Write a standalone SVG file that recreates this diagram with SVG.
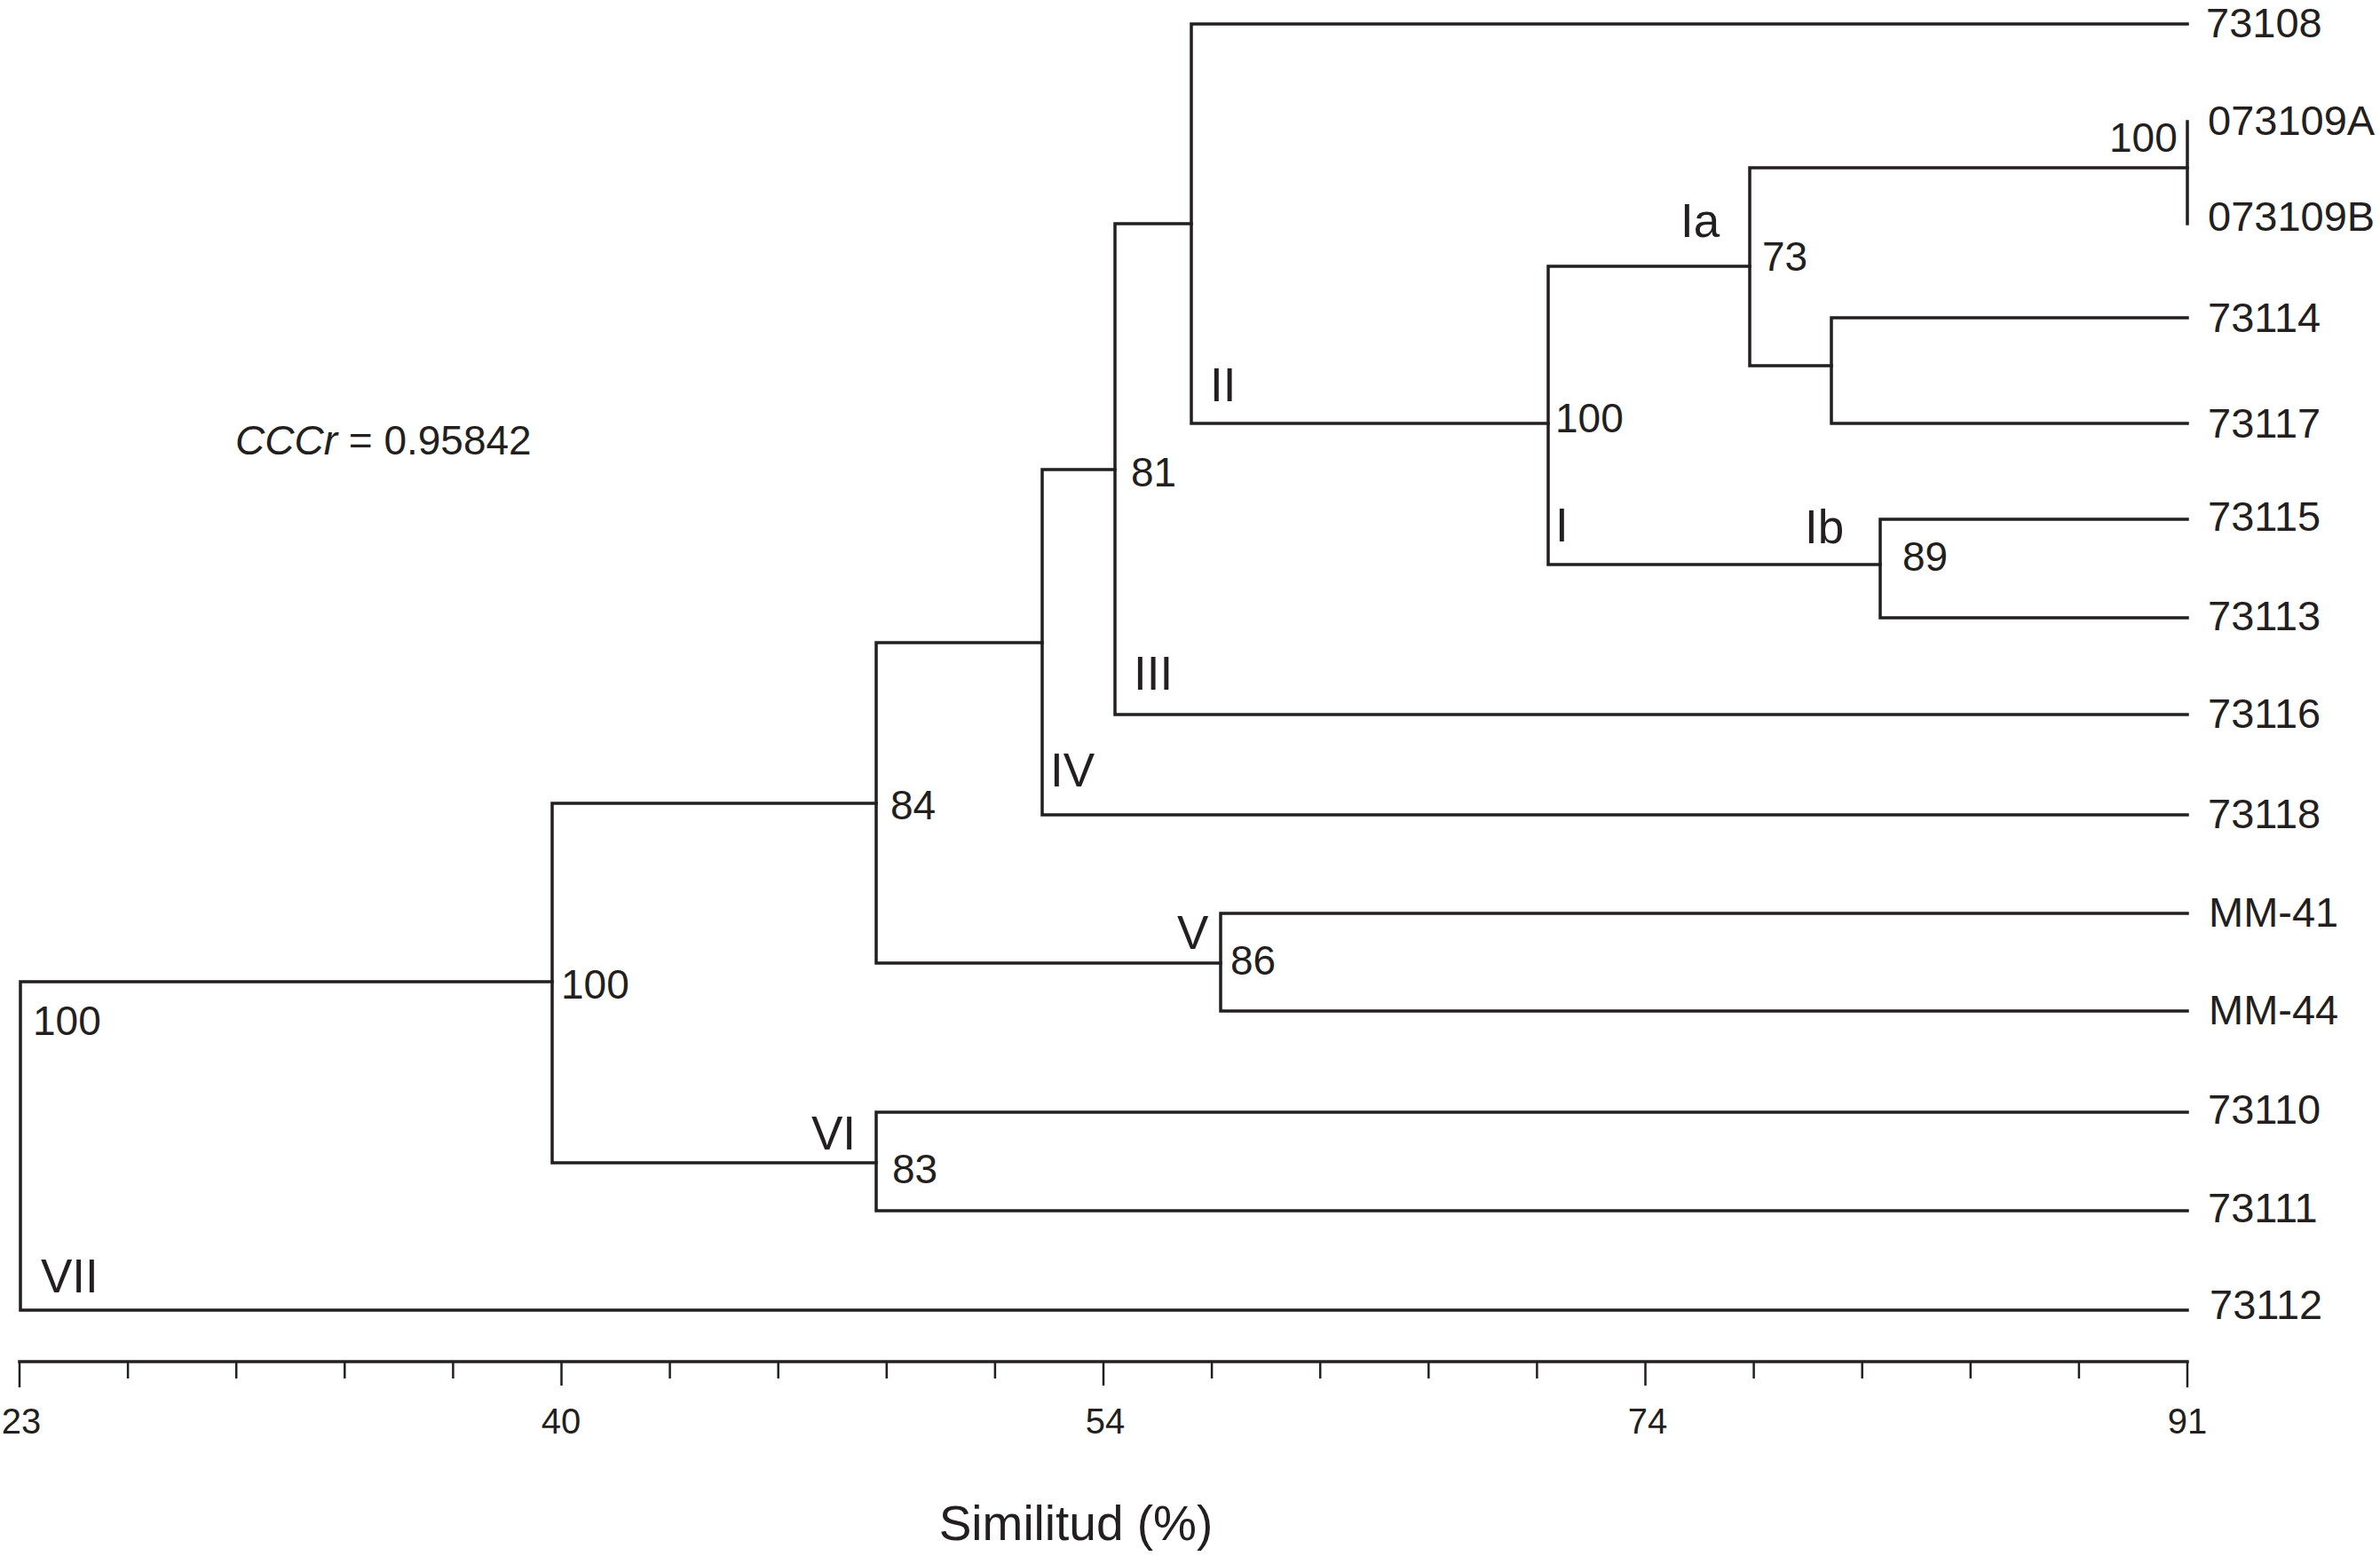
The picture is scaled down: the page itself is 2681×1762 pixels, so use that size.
<svg xmlns="http://www.w3.org/2000/svg" width="2681" height="1762" viewBox="0 0 2681 1762">
<style>
.ln{fill:none;stroke:#231f20;stroke-width:3.5;stroke-linecap:square;stroke-linejoin:miter}
.tk{fill:none;stroke:#231f20;stroke-width:2.5}
text{font-family:"Liberation Sans",Arial,sans-serif;fill:#231f20}
.lf{font-size:47px}
.bs{font-size:46px}
.rm{font-size:53px}
.ax{font-size:40px;text-anchor:middle}
</style>
<rect width="2681" height="1762" fill="#ffffff"/>
<g id="connectors">
<path class="ln" d="M622,1106 H23 V1476 H2464"/>
<path class="ln" d="M987,905 H622 V1310 H987"/>
<path class="ln" d="M1174,724 H987 V1085 H1375"/>
<path class="ln" d="M2464,1253 H987 V1364 H2464"/>
<path class="ln" d="M2464,1029 H1375 V1139 H2464"/>
<path class="ln" d="M1256,529 H1174 V918 H2464"/>
<path class="ln" d="M1342,252 H1256 V805 H2464"/>
<path class="ln" d="M2464,27 H1342 V477 H1744"/>
<path class="ln" d="M1971,300 H1744 V636 H2118"/>
<path class="ln" d="M2464,189 H1971 V412 H2063"/>
<path class="ln" d="M2464,358 H2063 V477 H2464"/>
<path class="ln" d="M2464,585 H2118 V696 H2464"/>
<path class="ln" d="M2464,137 V252"/>
</g>
<g id="leaves">
<g id="leaf-73108"><text class="lf" x="2485" y="42">73108</text></g>
<g id="leaf-073109A"><text class="lf" x="2487" y="152">073109A</text></g>
<g id="leaf-073109B"><text class="lf" x="2487" y="260">073109B</text></g>
<g id="leaf-73114"><text class="lf" x="2487" y="374">73114</text></g>
<g id="leaf-73117"><text class="lf" x="2487" y="493">73117</text></g>
<g id="leaf-73115"><text class="lf" x="2487" y="598">73115</text></g>
<g id="leaf-73113"><text class="lf" x="2487" y="710">73113</text></g>
<g id="leaf-73116"><text class="lf" x="2487" y="820">73116</text></g>
<g id="leaf-73118"><text class="lf" x="2487" y="933">73118</text></g>
<g id="leaf-MM-41"><text class="lf" x="2488" y="1044">MM-41</text></g>
<g id="leaf-MM-44"><text class="lf" x="2488" y="1154">MM-44</text></g>
<g id="leaf-73110"><text class="lf" x="2487" y="1266">73110</text></g>
<g id="leaf-73111"><text class="lf" x="2487" y="1377">73111</text></g>
<g id="leaf-73112"><text class="lf" x="2489" y="1486">73112</text></g>
</g>
<g id="nodes">
<g id="node-root"><text class="bs" x="37" y="1166">100</text><text class="rm" x="46" y="1456">VII</text></g>
<g id="node-100"><text class="bs" x="632" y="1125">100</text></g>
<g id="node-VI"><text class="rm" x="914" y="1295">VI</text><text class="bs" x="1005" y="1333">83</text></g>
<g id="node-84"><text class="bs" x="1003" y="923">84</text></g>
<g id="node-V"><text class="rm" x="1326" y="1069">V</text><text class="bs" x="1386" y="1098">86</text></g>
<g id="node-IV"><text class="rm" x="1183" y="886">IV</text></g>
<g id="node-III"><text class="rm" x="1277" y="777">III</text></g>
<g id="node-81"><text class="bs" x="1274" y="548">81</text></g>
<g id="node-II"><text class="rm" x="1363" y="452">II</text></g>
<g id="node-I"><text class="bs" x="1752" y="487">100</text><text class="rm" x="1752" y="610">I</text></g>
<g id="node-Ia"><text class="rm" x="1893" y="267">Ia</text><text class="bs" x="1985" y="305">73</text></g>
<g id="node-073109"><text class="bs" x="2376" y="171">100</text></g>
<g id="node-Ib"><text class="rm" x="2033" y="612">Ib</text><text class="bs" x="2143" y="643">89</text></g>
</g>
<g id="ccc"><text class="bs" x="265" y="512"><tspan font-style="italic">CCCr</tspan> = 0.95842</text></g>
<g id="axis">
<path class="ln" d="M22,1534 H2464"/>
<path class="tk" d="M22,1534 V1563 M144.1,1534 V1553 M266.2,1534 V1553 M388.3,1534 V1553 M510.4,1534 V1553 M632.5,1534 V1561 M754.6,1534 V1553 M876.7,1534 V1553 M998.8,1534 V1553 M1120.9,1534 V1553 M1243,1534 V1561 M1365.1,1534 V1553 M1487.2,1534 V1553 M1609.3,1534 V1553 M1731.4,1534 V1553 M1853.5,1534 V1561 M1975.6,1534 V1553 M2097.7,1534 V1553 M2219.8,1534 V1553 M2341.9,1534 V1553 M2464,1534 V1563"/>
<text class="ax" x="24" y="1615">23</text>
<text class="ax" x="632" y="1615">40</text>
<text class="ax" x="1245" y="1615">54</text>
<text class="ax" x="1856" y="1615">74</text>
<text class="ax" x="2464" y="1615">91</text>
<text x="1212" y="1735" font-size="55" text-anchor="middle">Similitud (%)</text>
</g>
</svg>
